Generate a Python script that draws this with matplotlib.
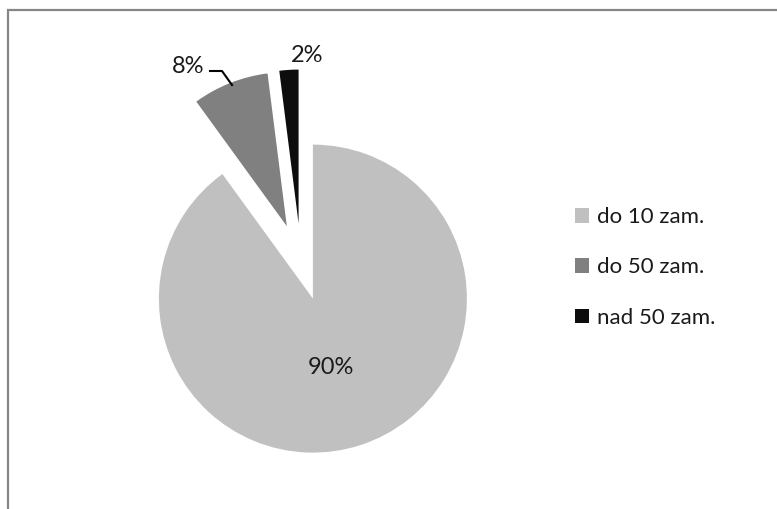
import matplotlib
matplotlib.use("Agg")
import matplotlib.pyplot as plt
from matplotlib.patches import Rectangle, Patch
from matplotlib.lines import Line2D

categories = ["do 10 zam.", "do 50 zam.", "nad 50 zam."]
values = [90, 8, 2]
pct_labels = ["90%", "8%", "2%"]
colors = ["#C0C0C0", "#808080", "#0D0D0D"]

W, H = 777, 509
DPI = 100
CX, CY, R = 301, 262, 154  # pie centre / radius in pixels

plt.rcParams['font.family'] = ['Lato', 'DejaVu Sans']
fig = plt.figure(figsize=(W / DPI, H / DPI), dpi=DPI)
ax = fig.add_axes([0, 0, 1, 1])

def px(x, y):
    return ((x - CX) / R, (CY - y) / R)

wedges, _ = ax.pie(values, colors=colors, startangle=90, counterclock=False,
                   explode=[0.25, 0.25, 0.25], radius=1.0,
                   wedgeprops=dict(linewidth=0))
ax.set_aspect('auto')
ax.set_xlim((0 - CX) / R, (W - CX) / R)
ax.set_ylim((CY - H) / R, CY / R)
ax.axis('off')

txt_color = "#1a1a1a"
ax.text(*px(331, 367), pct_labels[0], ha='center', va='center', fontsize=17, color=txt_color)
ax.text(*px(188, 66), pct_labels[1], ha='center', va='center', fontsize=17, color=txt_color)
ax.text(*px(307, 55), pct_labels[2], ha='center', va='center', fontsize=17, color=txt_color)

lx, ly = zip(px(210, 71), px(222, 71), px(232, 85))
ax.add_line(Line2D(lx, ly, color="#000000", linewidth=1.5))

# chart frame
fig.patches.append(Rectangle((8 / W, -0.1), 1.2, (H - 10) / H + 0.1, transform=fig.transFigure,
                             fill=False, edgecolor="#868686", linewidth=1.6))

handles = [Patch(facecolor=c, edgecolor='none') for c in colors]
leg = fig.legend(handles, categories, loc='upper left',
                 bbox_to_anchor=(566 / W, 1 - 198 / H), frameon=False,
                 fontsize=16, handlelength=0.65, handleheight=0.65,
                 handletextpad=0.35, labelspacing=1.37, borderaxespad=0)
for t in leg.get_texts():
    t.set_color(txt_color)

fig.savefig("out.png", dpi=DPI)
